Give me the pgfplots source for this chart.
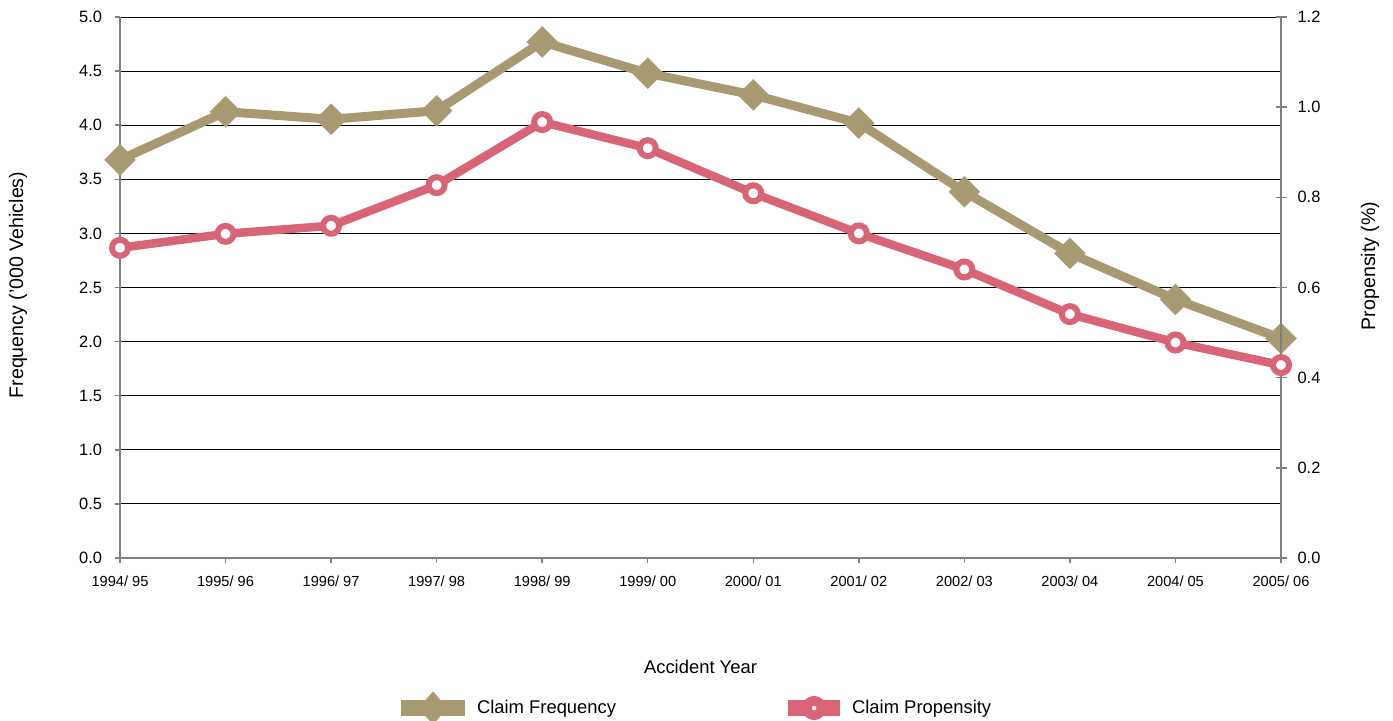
\documentclass[border=0pt]{standalone}
\usepackage{fontspec}
\setmainfont{Liberation Sans}
\usepackage{pgfplots}
\pgfplotsset{compat=1.18}
\definecolor{freq}{HTML}{A89A70}
\definecolor{prop}{HTML}{D96476}
\definecolor{axgray}{HTML}{808080}
\begin{document}
\begin{tikzpicture}
\path[use as bounding box] (-60pt,-81pt) rectangle (636.5pt,279pt);
\begin{axis}[
  scale only axis, width=580.5pt, height=270.5pt,
  at={(0,0)}, anchor=south west,
  xmin=0, xmax=11, ymin=0, ymax=5,
  xtick={0,...,11},
  xticklabels={1994/ 95,1995/ 96,1996/ 97,1997/ 98,1998/ 99,1999/ 00,2000/ 01,2001/ 02,2002/ 03,2003/ 04,2004/ 05,2005/ 06},
  ytick={0,0.5,1,1.5,2,2.5,3,3.5,4,4.5,5},
  yticklabel style={/pgf/number format/fixed, /pgf/number format/fixed zerofill, /pgf/number format/precision=1, /pgf/number format/assume math mode=true, font=\fontsize{8.2}{10}\selectfont, xshift=-3pt},
  xticklabel style={font=\fontsize{7.3}{9}\selectfont, yshift=-3pt},
  axis x line*=bottom, axis y line*=left,
  axis line style={axgray, line width=0.75pt},
  tick style={axgray, line width=0.75pt},
  tick align=outside, major tick length=2.5pt,
  ymajorgrids, grid style={black, line width=0.5pt},
  xlabel={Accident Year},
  xlabel style={font=\fontsize{9.2}{11}\selectfont, at={(axis description cs:0.5,-0.2015)}, anchor=center},
  ylabel={Frequency ('000 Vehicles)},
  ylabel style={font=\fontsize{9.8}{11}\selectfont, at={(axis description cs:-0.0879,0.5046)}, anchor=center},
  clip=false,
]
\addplot[color=freq, line width=4.5pt, mark=square*, mark size=5.5pt, mark options={rotate=45, solid, line width=0.1pt}]
coordinates {(0,3.68) (1,4.125) (2,4.055) (3,4.134) (4,4.77) (5,4.48) (6,4.28) (7,4.02) (8,3.385) (9,2.816) (10,2.39) (11,2.03)};
\end{axis}
\begin{axis}[
  scale only axis, width=580.5pt, height=270.5pt,
  at={(0,0)}, anchor=south west,
  xmin=0, xmax=11, ymin=0, ymax=1.2,
  axis x line=none, axis y line*=right,
  ytick={0,0.2,0.4,0.6,0.8,1.0,1.2},
  yticklabel style={/pgf/number format/fixed, /pgf/number format/fixed zerofill, /pgf/number format/precision=1, /pgf/number format/assume math mode=true, font=\fontsize{8.2}{10}\selectfont, xshift=2pt},
  axis line style={axgray, line width=0.75pt},
  tick style={axgray, line width=0.75pt},
  tick align=center, major tick length=5.5pt,
  ylabel={Propensity (\%)},
  ylabel style={font=\fontsize{9.8}{11}\selectfont, at={(axis description cs:1.0767,0.54)}, anchor=center},
  clip=false,
  legend columns=2,
  legend style={draw=none, fill=none, at={(rel axis cs:0.4945,-0.2773)}, anchor=center,
    font=\fontsize{9.2}{11}\selectfont, /tikz/every even column/.append style={column sep=80pt}},
  legend cell align=left,
]
\addlegendimage{legend image code/.code={
  \draw[line width=8pt, freq] (0pt,0pt) -- (32pt,0pt);
  \fill[freq] (16pt,8pt) -- (23pt,0pt) -- (16pt,-8pt) -- (9pt,0pt) -- cycle;}}
\addlegendentry{Claim Frequency}
\addplot[color=prop, line width=4.25pt, mark=*, mark size=4pt, mark options={fill=white, line width=3pt, solid},
  legend image code/.code={
  \draw[line width=8pt, prop] (0pt,0pt) -- (26pt,0pt);
  \draw[prop, fill=white, line width=4.8pt] (13pt,0pt) circle (3.6pt);}]
coordinates {(0,0.688) (1,0.719) (2,0.737) (3,0.827) (4,0.967) (5,0.909) (6,0.809) (7,0.72) (8,0.64) (9,0.541) (10,0.478) (11,0.428)};
\addlegendentry{Claim Propensity}
\end{axis}
\end{tikzpicture}
\end{document}
